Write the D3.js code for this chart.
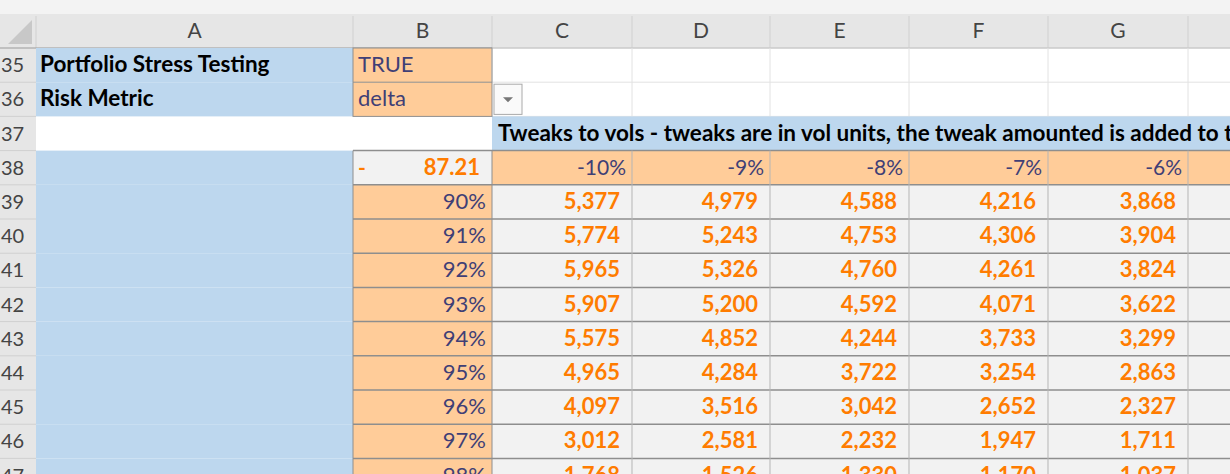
<!DOCTYPE html>
<html><head><meta charset="utf-8">
<script src="https://cdn.jsdelivr.net/npm/d3@7"></script>
<style>body{margin:0;background:#fff}svg{display:block;font-family:Lato,"Open Sans",sans-serif}</style>
</head><body>
<script>
// sheet content
var colLetters = ["A","B","C","D","E","F","G",""];
var rowNumbers = [35,36,37,38,39,40,41,42,43,44,45,46,47];
var volTweaks = ["-10%","-9%","-8%","-7%","-6%"];
var spotLevels = ["90%","91%","92%","93%","94%","95%","96%","97%","98%"];
var stressValues = [
  [5377,4979,4588,4216,3868],
  [5774,5243,4753,4306,3904],
  [5965,5326,4760,4261,3824],
  [5907,5200,4592,4071,3622],
  [5575,4852,4244,3733,3299],
  [4965,4284,3722,3254,2863],
  [4097,3516,3042,2652,2327],
  [3012,2581,2232,1947,1711],
  [1768,1526,1330,1170,1037]
];

var W = 1230, H = 474;
var colEdges = [36,353,492,632,770,909,1048,1188,1330];
var rowTop = 48, rowH = 34.2, headH = 48;

var blue = "#bdd7ee", peach = "#ffcc99", grey = "#f2f2f2", orange = "#ff7c00", navy = "#3f3f76";

var svg = d3.select("body").append("svg").attr("width", W).attr("height", H);

var y = function(i){ return rowTop + i*rowH; };
var x = function(c){ return colEdges[c]; };
var fmt = d3.format(",");

function cell(c, r, fill, cspan){
  cspan = cspan || 1;
  svg.append("rect").attr("x", x(c)).attr("y", y(r))
    .attr("width", x(c+cspan)-x(c)).attr("height", rowH).attr("fill", fill);
}
function txt(t, xx, r, o){
  o = o || {};
  svg.append("text").attr("x", xx).attr("y", y(r)+rowH/2+7)
    .attr("text-anchor", o.anchor || "start")
    .attr("font-size", o.size || 21)
    .attr("font-weight", o.bold ? "bold" : "normal")
    .attr("fill", o.color || "#000").text(t);
}

// header strip
svg.append("rect").attr("width", W).attr("height", headH).attr("fill", "#e6e6e6");
svg.append("rect").attr("width", W).attr("height", 14).attr("fill", "#f3f3f3");
svg.append("rect").attr("x",0).attr("y",headH).attr("width",36).attr("height",H).attr("fill","#e6e6e6");
svg.append("path").attr("d","M8,44 L32,44 L32,20 Z").attr("fill","#c8c8c8");
colLetters.forEach(function(l,i){
  svg.append("text").attr("x",(x(i)+x(i+1))/2).attr("y",38).attr("text-anchor","middle")
    .attr("font-size",21).attr("fill","#444").text(l);
  svg.append("line").attr("x1",x(i)).attr("x2",x(i)).attr("y1",16).attr("y2",headH).attr("stroke","#d0d0d0");
});
svg.append("line").attr("x1",0).attr("x2",W).attr("y1",headH).attr("y2",headH).attr("stroke","#9a9a9a");
rowNumbers.forEach(function(n,i){
  svg.append("text").attr("x",1).attr("y",y(i)+rowH/2+7).attr("font-size",20).attr("fill","#444").text(n);
  svg.append("line").attr("x1",0).attr("x2",36).attr("y1",y(i+1)).attr("y2",y(i+1)).attr("stroke","#d0d0d0");
});

// column A
cell(0,0,blue); cell(0,1,blue);
for (var r=3;r<13;r++) cell(0,r,blue);
txt("Portfolio Stress Testing", 40, 0, {bold:true, size:22.5});
txt("Risk Metric", 40, 1, {bold:true, size:22.5});

// B35/B36
cell(1,0,peach); cell(1,1,peach);
txt("TRUE", 358, 0, {color:navy, size:22});
txt("delta", 358, 1, {color:navy, size:22});
svg.append("rect").attr("x",494).attr("y",y(1)+2).attr("width",28).attr("height",rowH-4)
  .attr("fill","#fafafa").attr("stroke","#aaa");
svg.append("path").attr("d","M503,"+(y(1)+15)+" l10,0 l-5,5 z").attr("fill","#777");
// thin gridlines rows 35-36 in C..H
[0,1,2].forEach(function(r){
  svg.append("line").attr("x1",x(2)).attr("x2",W).attr("y1",y(r)).attr("y2",y(r)).attr("stroke","#e2e2e2");
});
for (var c=2;c<8;c++) svg.append("line").attr("x1",x(c)).attr("x2",x(c)).attr("y1",y(0)).attr("y2",y(1)+ (c==2?0:rowH)).attr("stroke","#e2e2e2");

// row 37 heading band
cell(2,2,blue,6);
txt("Tweaks to vols - tweaks are in vol units, the tweak amounted is added to the current vol", x(2)+6, 2, {bold:true, size:22.5});

// row 38
cell(1,3,grey);
txt("-", 358, 3, {bold:true, color:orange});
txt("87.21", x(2)-12, 3, {bold:true, color:orange, anchor:"end", size:22});
volTweaks.forEach(function(t,i){
  cell(2+i,3,peach);
  txt(t, x(3+i)-6, 3, {color:navy, anchor:"end"});
});
cell(7,3,peach);

// body rows
spotLevels.forEach(function(s,r){
  cell(1,4+r,peach);
  txt(s, x(2)-6, 4+r, {color:navy, anchor:"end", size:22});
  stressValues[r].forEach(function(v,i){
    cell(2+i,4+r,grey);
    txt(fmt(v), x(3+i)-12, 4+r, {bold:true, color:orange, anchor:"end", size:22});
  });
  cell(7,4+r,grey);
});

// grid lines for table
for (var r=3;r<=13;r++)
  svg.append("line").attr("x1",x(1)).attr("x2",W).attr("y1",y(r)).attr("y2",y(r)).attr("stroke","#8e8e8e").attr("stroke-width",1.5);
for (var c=1;c<8;c++)
  svg.append("line").attr("x1",x(c)).attr("x2",x(c)).attr("y1",y(3)).attr("y2",H).attr("stroke", c<3?"#8e8e8e":"#b5b5b5");
svg.append("rect").attr("x",x(1)).attr("y",y(0)).attr("width",x(2)-x(1)).attr("height",2*rowH)
  .attr("fill","none").attr("stroke","#8e8e8e");
svg.append("line").attr("x1",x(1)).attr("x2",x(2)).attr("y1",y(1)).attr("y2",y(1)).attr("stroke","#8e8e8e");
</script>
</body></html>
